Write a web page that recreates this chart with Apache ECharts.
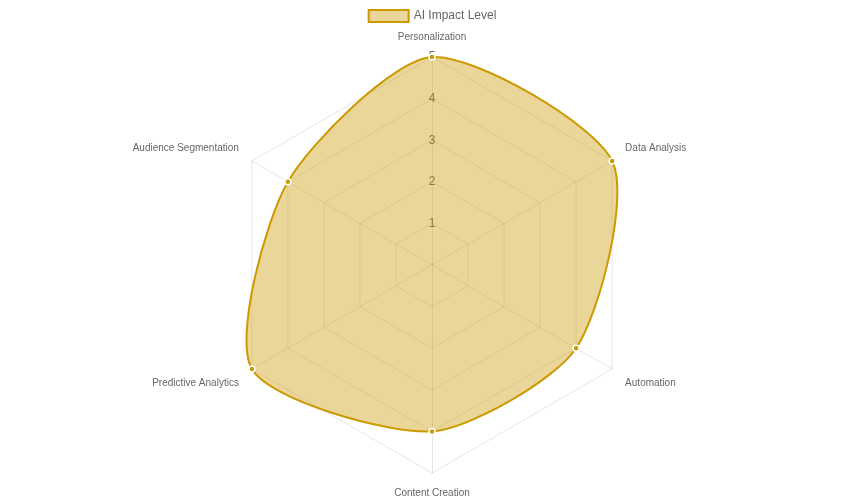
<!DOCTYPE html>
<html><head><meta charset="utf-8">
<script src="https://cdn.jsdelivr.net/npm/echarts@6/dist/echarts.min.js"></script>
<style>html,body{margin:0;padding:0;background:#fff}#c{width:864px;height:500px}</style>
</head><body><div id="c"></div>
<script>
const categories = ['Personalization','Data Analysis','Automation','Content Creation','Predictive Analytics','Audience Segmentation'];
const impactValues = [5, 5, 4, 4, 5, 4];
const tickLabels = ['1', '2', '3', '4', '5'];
const seriesName = 'AI Impact Level';
const maxValue = 5;

const LINE = 'rgb(204,153,0)';
const FILL = 'rgba(204,153,0,0.4)';
const FONT = '"Liberation Sans", Arial, Helvetica, sans-serif';
const TENSION = 0.25;
const step = 360 / categories.length;
const CENTER = [432, 265];
const RADIUS = 208;

// radar lays indicators counterclockwise; reorder so they run clockwise
const radarOrder = [0].concat(categories.map((_, i) => i).slice(1).reverse());
function nameSide(name) {
  const i = categories.indexOf(name);
  const a = i * step;
  if (a === 0 || a === 180) return 'm';
  if (a < 90 || a > 270) return 'u';
  return 'd';
}
const indicators = radarOrder.map(i => {
  const ind = { name: categories[i], min: 0, max: maxValue };
  if (i === 0) ind.axisLabel = { show: true };
  return ind;
});

// closed cardinal spline (same construction as a tensioned radar line)
function splinePath(pts, t) {
  const n = pts.length, cps = [];
  for (let i = 0; i < n; i++) {
    const p = pts[(i - 1 + n) % n], c = pts[i], q = pts[(i + 1) % n];
    const d01 = Math.hypot(c[0] - p[0], c[1] - p[1]);
    const d12 = Math.hypot(q[0] - c[0], q[1] - c[1]);
    const s = d01 + d12 || 1;
    const fa = t * d01 / s, fb = t * d12 / s;
    const vx = q[0] - p[0], vy = q[1] - p[1];
    cps.push({ inn: [c[0] - fa * vx, c[1] - fa * vy], out: [c[0] + fb * vx, c[1] + fb * vy] });
  }
  let d = 'M' + pts[0][0] + ' ' + pts[0][1];
  for (let i = 0; i < n; i++) {
    const j = (i + 1) % n;
    d += ' C' + cps[i].out[0] + ' ' + cps[i].out[1] + ' ' + cps[j].inn[0] + ' ' + cps[j].inn[1] + ' ' + pts[j][0] + ' ' + pts[j][1];
  }
  return d + ' Z';
}

const chart = echarts.init(document.getElementById('c'), null, { renderer: 'canvas' });
chart.setOption({
  animation: false,
  textStyle: { fontFamily: FONT },
  legend: {
    top: 4, left: 'center', itemWidth: 40, itemHeight: 12, itemGap: 10,
    textStyle: { color: '#666', fontSize: 12, fontFamily: FONT },
    data: [{ name: seriesName, icon: 'rect', itemStyle: { color: FILL, borderColor: LINE, borderWidth: 2 } }]
  },
  radar: {
    center: CENTER, radius: RADIUS, startAngle: 90, splitNumber: 5, shape: 'polygon',
    nameGap: 15,
    axisName: {
      color: '#666', fontSize: 10, fontFamily: FONT,
      formatter: function (name) { return '{' + nameSide(name) + '|' + name + '}'; },
      rich: {
        m: { color: '#666', fontSize: 10, fontFamily: FONT },
        u: { color: '#666', fontSize: 10, fontFamily: FONT, padding: [0, 0, 11, 0] },
        d: { color: '#666', fontSize: 10, fontFamily: FONT, padding: [13, 0, 0, 0] }
      }
    },
    axisLine: { lineStyle: { color: 'rgba(0,0,0,0.1)', width: 1 } },
    splitLine: { lineStyle: { color: 'rgba(0,0,0,0.1)', width: 1 } },
    splitArea: { show: false },
    axisTick: { show: false },
    axisLabel: {
      show: false, color: '#666', fontSize: 12, fontFamily: FONT, margin: 0,
      align: 'center', verticalAlign: 'middle', showMinLabel: false,
      formatter: v => tickLabels.indexOf(String(v)) >= 0 ? String(v) : ''
    },
    indicator: indicators
  },
  polar: { center: CENTER, radius: RADIUS },
  angleAxis: { type: 'value', min: 0, max: 360, startAngle: 90, clockwise: true, show: false },
  radiusAxis: { type: 'value', min: 0, max: maxValue, show: false },
  series: [{
    type: 'custom', name: seriesName, coordinateSystem: 'polar', z: 3,
    itemStyle: { color: FILL, borderColor: LINE },
    data: categories.map((c, i) => [impactValues[i], i * step]),
    renderItem: function (params, api) {
      const pt = api.coord([api.value(0), api.value(1)]);
      const dot = { type: 'circle', z2: 10, shape: { cx: pt[0], cy: pt[1], r: 3 }, style: { fill: LINE, stroke: '#fff', lineWidth: 1.5 } };
      if (params.dataIndex !== 0) return dot;
      const pts = impactValues.map((v, i) => api.coord([v, i * step]));
      return {
        type: 'group',
        children: [
          { type: 'path', z2: 1, shape: { pathData: splinePath(pts, TENSION) }, style: { fill: FILL, stroke: LINE, lineWidth: 2 } },
          dot
        ]
      };
    }
  }]
});
</script>
</body></html>
